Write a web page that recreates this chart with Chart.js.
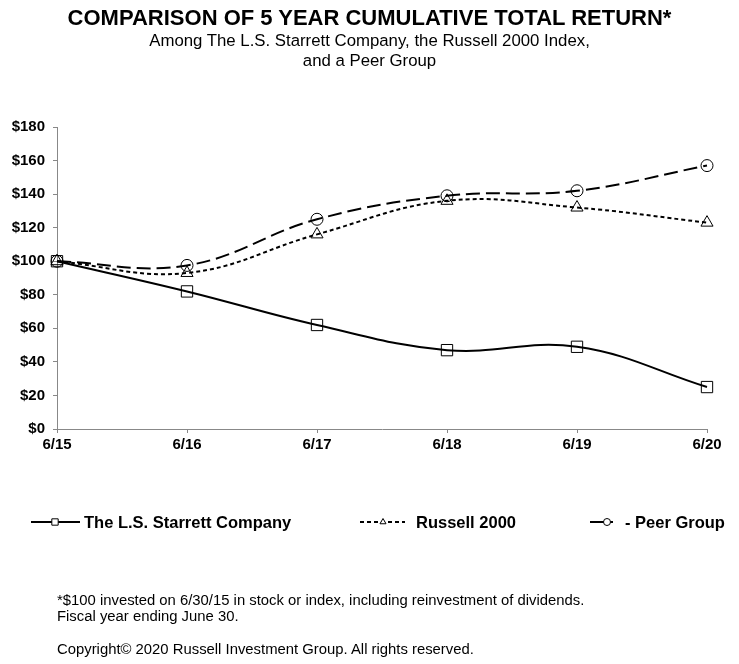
<!DOCTYPE html>
<html>
<head>
<meta charset="utf-8">
<script src="https://cdn.jsdelivr.net/npm/chart.js@4"></script>
<style>
  body { margin: 0; background: #fff; font-family: "Liberation Sans", Arial, sans-serif; }
  #wrap { position: relative; width: 739px; height: 664px; }
  #chart { position: absolute; left: 0; top: 0; }
  .t { position: absolute; color: #000; white-space: nowrap; }
  #title { left: 0; width: 739px; text-align: center; top: 5px; font-size: 22px; font-weight: bold; }
  #sub { left: 0; width: 739px; text-align: center; top: 31px; font-size: 16.8px; line-height: 20px; }
  .foot { left: 57px; font-size: 14.85px; }
</style>
</head>
<body>
<div id="wrap">
  <canvas id="chart" width="739" height="664"></canvas>
  <div class="t" id="title">COMPARISON OF 5 YEAR CUMULATIVE TOTAL RETURN*</div>
  <div class="t" id="sub">Among The L.S. Starrett Company, the Russell 2000 Index,<br>and a Peer Group</div>
  <div class="t foot" style="top:592px">*$100 invested on 6/30/15 in stock or index, including reinvestment of dividends.</div>
  <div class="t foot" style="top:608px">Fiscal year ending June 30.</div>
  <div class="t foot" style="top:641px">Copyright© 2020 Russell Investment Group. All rights reserved.</div>
</div>
<script>
// valores
const years = ['6/15', '6/16', '6/17', '6/18', '6/19', '6/20'];
const starrett = [100, 82, 62, 47, 49, 25];
const russell = [100, 93, 116, 136, 132, 123];
const peer = [100, 97.5, 125, 139, 142, 157];
const yTicks = [0, 20, 40, 60, 80, 100, 120, 140, 160, 180];

const seriesNames = ['The L.S. Starrett Company', 'Russell 2000', '- Peer Group'];

const mkSet = (label, data, dash, style, radius) => ({
  label: label,
  data: data,
  borderColor: '#000',
  borderWidth: 2,
  borderDash: dash,
  tension: 0.4,
  pointStyle: style,
  pointRadius: radius,
  pointBorderColor: '#000',
  pointBackgroundColor: 'transparent',
  pointBorderWidth: 1,
  clip: false,
});

// leyenda dibujada a mano: línea con marcador
const legendPlugin = {
  id: 'lineLegend',
  afterDraw(chart) {
    const ctx = chart.ctx;
    const y = 522;
    const items = [
      { x: 31, w: 49, m: 55, tx: 84, text: seriesNames[0], ds: 0 },
      { x: 360, w: 45, m: 383, tx: 416, text: seriesNames[1], ds: 1 },
      { x: 590, w: 23, m: 607, tx: 625, text: seriesNames[2], ds: 2 },
    ];
    ctx.save();
    items.forEach(it => {
      const ds = chart.data.datasets[it.ds];
      ctx.strokeStyle = '#000';
      ctx.lineWidth = 2;
      ctx.setLineDash(it.ds === 2 ? [] : ds.borderDash);
      ctx.beginPath();
      ctx.moveTo(it.x, y);
      ctx.lineTo(it.x + it.w, y);
      ctx.stroke();
      ctx.setLineDash([]);
      ctx.lineWidth = 1;
      ctx.fillStyle = '#fff';
      Chart.helpers.drawPoint(ctx, { pointStyle: ds.pointStyle, radius: it.ds === 0 ? 4.5 : 3.5, borderWidth: 1, rotation: 0 }, it.m, y);
      ctx.font = 'bold 16.5px "Liberation Sans", Arial, sans-serif';
      ctx.fillStyle = '#000';
      ctx.textBaseline = 'middle';
      ctx.fillText(it.text, it.tx, y + 1);
    });
    ctx.restore();
  }
};

new Chart(document.getElementById('chart').getContext('2d'), {
  type: 'line',
  data: {
    labels: years,
    datasets: [
      mkSet(seriesNames[0], starrett, [], 'rect', 8),
      mkSet(seriesNames[1], russell, [4, 3], 'triangle', 7),
      mkSet(seriesNames[2], peer, [14, 6], 'circle', 6),
    ],
  },
  options: {
    responsive: false,
    animation: false,
    layout: { padding: { top: 127, right: 32, bottom: 205, left: 0 } },
    plugins: {
      legend: { display: false },
      tooltip: { enabled: false },
    },
    scales: {
      x: {
        offset: false,
        grid: { drawOnChartArea: false, drawTicks: true, tickLength: 4, color: '#888' },
        border: { color: '#888', width: 1 },
        ticks: { color: '#000', font: { family: '"Liberation Sans", Arial', size: 15, weight: 'bold' }, padding: 3, maxRotation: 0 },
        afterFit: s => { s.height = 30; },
      },
      y: {
        min: 0,
        max: 180,
        afterBuildTicks: s => { s.ticks = yTicks.map(v => ({ value: v })); },
        grid: { drawOnChartArea: false, drawTicks: true, tickLength: 4, color: '#888' },
        border: { color: '#888', width: 1 },
        ticks: {
          color: '#000',
          font: { family: '"Liberation Sans", Arial', size: 15, weight: 'bold' },
          padding: 8,
          callback: v => '$' + v,
        },
        afterFit: s => { s.width = 57; },
      },
    },
  },
  plugins: [legendPlugin],
});
</script>
</body>
</html>
